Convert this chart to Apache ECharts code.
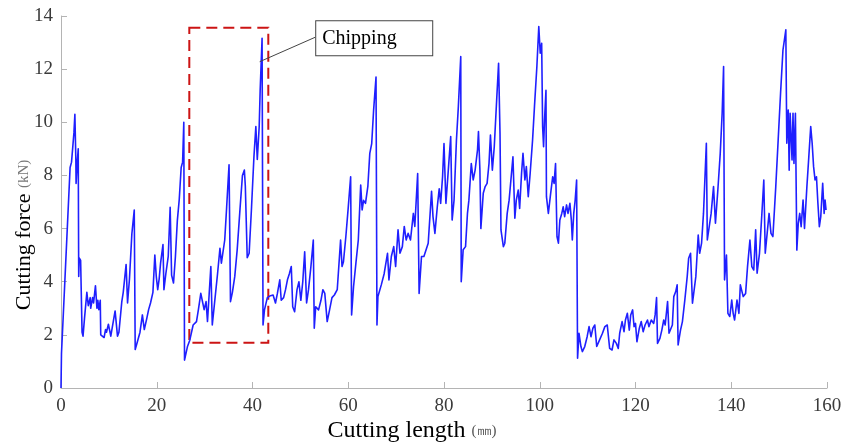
<!DOCTYPE html>
<html>
<head>
<meta charset="utf-8">
<script src="https://cdn.jsdelivr.net/npm/echarts@6/dist/echarts.min.js"></script>
<style>
  html, body { margin: 0; padding: 0; background: #fff; }
  #chart { width: 845px; height: 446px; }
</style>
</head>
<body>
<div id="chart"></div>
<script>
// Cutting length (mm) at each sample
const lengthMm = [
  0, 0.1, 0.8, 1.9, 2.2, 2.7, 2.9, 3.1, 3.15, 3.4, 3.6, 3.7, 3.8, 4.1, 4.4, 4.6, 4.9, 5.4, 5.7, 6.1,
  6.2, 6.6, 6.8, 7.2, 7.5, 7.7, 7.9, 8.2, 8.3, 8.6, 9.0, 9.3, 9.5, 9.9, 10.4, 10.7, 11.3, 11.8, 12.1, 12.7,
  13.0, 13.6, 13.9, 14.3, 14.8, 15.3, 15.5, 15.9, 16.5, 17.0, 17.4, 17.9, 18.3, 18.7, 19.2, 19.6, 19.9, 20.2, 20.5, 20.8,
  21.3, 21.5, 21.9, 22.4, 22.8, 23.1, 23.5, 23.9, 24.3, 24.7, 25.1, 25.4, 25.5, 25.65,
  25.8, 26.4, 26.9, 27.6, 28.3, 28.7, 29.2, 29.6, 29.9, 30.3, 30.6, 31.3, 31.6, 32.1, 32.7, 33.2, 33.5, 33.8, 34.2, 34.6,
  35.1, 35.4, 35.8, 36.3, 36.8, 37.4, 37.9, 38.3, 38.5, 38.9, 39.3, 39.8, 40.3, 40.7, 41.0, 41.4, 41.6, 42.0, 42.2, 42.5,
  43.1, 43.6, 44.3, 44.8, 45.2, 45.7, 46.0, 46.5, 46.9, 47.3, 47.7, 48.1, 48.4, 48.8, 49.3, 49.7, 50.1, 50.5, 50.9, 51.3,
  51.7, 52.2, 52.7, 52.9, 53.2, 53.8, 54.3, 54.7, 55.1, 55.6, 56.1, 56.6, 57.1, 57.7, 58.4, 58.7, 59.0, 59.5, 60.0, 60.5,
  60.7, 61.1, 61.6, 62.1, 62.6, 62.9, 63.2, 63.6, 64.1, 64.5, 64.9, 65.3, 65.8, 66.0, 66.2, 66.9, 67.5, 68.2, 68.5, 69.0,
  69.5, 69.9, 70.4, 70.8, 71.3, 71.7, 72.1, 72.5, 73.0, 73.6, 73.9, 74.5, 74.8,
  75.3, 75.8, 76.2, 76.7, 77.4, 77.7, 78.1, 78.6, 79.0, 79.3, 79.7, 80.0, 80.4, 80.9, 81.4, 81.7, 82.1, 82.6, 83.0, 83.5,
  83.6, 84.0, 84.5, 84.9, 85.2, 85.7, 86.1, 86.5, 87.0, 87.2, 87.5, 87.7, 88.2, 88.6, 89.0, 89.4, 89.7, 90.1, 90.5, 91.0,
  91.4, 91.7, 91.9, 92.4, 92.7, 93.2, 93.6, 94.1, 94.4, 94.8, 95.1, 95.5, 95.8, 96.2, 96.5, 96.9, 97.2, 97.6, 98.0, 98.5,
  98.9, 99.4, 99.8, 100.1, 100.4, 100.6, 100.8, 101.0, 101.3, 101.4, 101.8, 102.2, 102.7, 103.0, 103.3, 103.6, 103.9, 104.2, 104.6, 104.9,
  105.2, 105.6, 105.9, 106.3, 106.6, 106.8, 107.1, 107.4, 107.7,
  107.9, 108.2, 108.6, 108.9, 109.4, 109.9, 110.3, 110.7, 111.1, 111.5, 111.9, 112.5, 113.1, 113.6, 114.1, 114.6, 115.1, 115.5, 116.0, 116.4,
  116.7, 117.2, 117.6, 117.9, 118.3, 118.7, 119.0, 119.4, 119.7, 120.0, 120.3, 120.8, 121.2, 121.6, 122.0, 122.5, 122.8, 123.3, 123.8, 124.1,
  124.4, 124.6, 125.1, 125.5, 125.9, 126.2, 126.7, 127.0, 127.4, 127.7, 128.0, 128.4, 128.7, 128.9, 129.4, 129.8, 130.3, 130.8, 131.1, 131.5,
  131.9, 132.2, 132.6, 133.1, 133.4, 133.8, 134.2, 134.8, 135.0, 135.3, 135.8, 136.3, 136.7, 137.2, 137.7, 138.1, 138.4, 138.6, 139.0, 139.3,
  139.7, 140.1, 140.4, 140.7, 141.2, 141.6, 141.9, 142.5, 143.0, 143.4, 143.9, 144.3, 144.7, 145.1, 145.4, 145.9, 146.4, 146.8, 147.1, 147.5,
  147.9, 148.3, 148.7, 149.3, 149.8, 150.3, 150.8, 151.4, 151.6, 151.9, 152.1, 152.3, 152.7, 152.9, 153.1, 153.4, 153.7, 154.0, 154.3, 154.6,
  155.0, 155.3, 155.8, 156.2, 156.6, 156.9, 157.2, 157.5, 157.8, 158.1, 158.4, 158.7, 159.1, 159.4, 159.6, 159.8
];

// Cutting force (kN) at each sample
const forceKn = [
  0, 1.3, 4.0, 8.3, 8.5, 9.6, 10.3, 8.6, 7.7, 8.5, 9.0, 4.2, 4.9, 4.8, 2.1, 1.95, 2.6, 3.6, 3.1, 3.4,
  3.0, 3.4, 3.2, 3.85, 3.0, 3.3, 2.95, 3.3, 2.0, 1.95, 1.9, 2.2, 2.1, 2.4, 1.95, 1.9, 2.9, 1.95, 2.1, 3.25,
  3.6, 4.65, 3.2, 4.1, 5.8, 6.7, 1.45, 1.7, 2.1, 2.75, 2.2, 2.6, 2.95, 3.2, 3.6, 5.0, 4.2, 3.7, 4.1, 4.7,
  5.4, 3.7, 4.3, 4.95, 6.8, 4.25, 3.95, 4.95, 6.3, 7.1, 8.3, 8.5, 9.1, 10.0,
  1.05, 1.55, 1.8, 2.37, 2.5, 2.95, 3.56, 3.5, 2.95, 3.25, 2.5, 4.57, 2.37, 3.25, 4.3, 5.26, 4.7, 4.75, 5.57, 6.8,
  8.4, 3.25, 3.6, 4.2, 5.2, 6.76, 8.0, 8.2, 7.6, 4.9, 5.07, 6.8, 8.7, 9.84, 8.6, 9.84, 11.2, 13.16, 2.37, 2.94,
  3.4, 3.46, 3.5, 3.2, 3.56, 4.07, 3.3, 3.4, 3.7, 4.07, 4.3, 4.57, 3.06, 2.87, 3.7, 4.0, 3.3, 4.0, 5.13, 3.2,
  3.7, 4.57, 5.57, 2.25, 3.06, 2.94, 3.3, 3.7, 3.56, 2.5, 2.94, 3.4, 3.5, 3.7, 5.57, 4.57, 4.75, 5.7, 6.8, 7.95,
  2.75, 3.8, 4.7, 5.57, 7.64, 6.7, 7.06, 6.95, 7.6, 8.83, 9.2, 10.46, 11.7, 2.37, 3.44, 3.88, 4.3, 5.07, 4.07, 4.95,
  5.32, 4.57, 5.95, 5.07, 5.32, 6.08, 5.57, 5.82, 5.57, 6.57, 6.08, 8.07, 3.56,
  4.95, 4.95, 4.88, 5.45, 7.4, 6.45, 5.82, 6.82, 7.5, 6.95, 7.95, 9.2, 6.95, 8.2, 9.46, 6.32, 7.07, 9.33, 10.6, 12.47,
  4.0, 5.2, 5.32, 6.57, 7.07, 8.45, 7.83, 8.2, 8.96, 9.65, 8.2, 6.0, 7.33, 7.58, 7.7, 8.45, 9.52, 8.2, 9.08, 10.84,
  12.22, 9.58, 5.95, 5.32, 5.45, 6.57, 7.07, 8.08, 8.7, 6.39, 7.07, 7.45, 6.76, 8.08, 8.83, 7.83, 8.33, 7.2, 8.08, 9.33,
  10.6, 12.1, 13.6, 12.6, 12.97, 9.84, 9.08, 10.09, 11.2, 7.2, 6.57, 7.2, 7.95, 7.7, 8.45, 5.7, 5.45, 6.32, 6.57, 6.82,
  6.45, 6.89, 6.57, 6.95, 6.32, 5.57, 6.57, 7.07, 7.83,
  1.12, 2.06, 1.56, 1.37, 1.56, 1.93, 2.31, 1.93, 2.25, 2.37, 1.56, 1.81, 2.06, 2.31, 2.37, 1.49, 1.43, 1.81, 1.68, 1.49,
  2.06, 2.5, 2.12, 2.56, 2.81, 2.18, 2.75, 2.94, 2.31, 2.43, 1.74, 2.25, 2.5, 2.12, 2.37, 2.56, 2.31, 2.56, 2.43, 2.75,
  3.4, 1.68, 1.87, 2.18, 2.56, 2.37, 3.25, 2.06, 2.0, 2.37, 3.44, 3.63, 3.88, 1.62, 2.18, 2.5, 3.31, 4.19, 4.88, 5.07,
  3.19, 3.25, 4.19, 5.76, 5.07, 5.45, 6.57, 9.21, 5.57, 5.57, 6.57, 7.58, 6.2, 7.45, 8.83, 10.34, 12.1, 4.07, 5.0, 2.81,
  2.69, 3.31, 2.81, 2.56, 3.31, 2.81, 3.88, 3.44, 3.56, 4.57, 5.57, 4.57, 4.44, 5.95, 4.32, 5.07, 6.57, 7.83, 5.07, 5.82,
  6.57, 5.82, 5.7, 7.58, 9.33, 11.09, 12.72, 13.48, 9.21, 10.46, 8.2, 10.34, 8.58, 10.34, 8.45, 10.34, 5.19, 6.2, 6.57, 6.07,
  7.07, 6.0, 7.58, 8.7, 9.84, 9.21, 8.33, 7.83, 7.95, 6.95, 6.07, 6.45, 7.7, 6.57, 7.07, 6.7
];

// Highlighted chipping region and its callout
const chipRangeX = [26.8, 43.3];
const chipRangeY = [1.7, 13.56];
const chipPoint = [41.5, 12.28];
const calloutAnchor = [53.1, 13.2];
const calloutText = 'Chipping';

const seriesData = lengthMm.map((x, i) => [x, forceKn[i]]);

const chart = echarts.init(document.getElementById('chart'), null, { renderer: 'canvas' });

const serif = '"Liberation Serif", "Times New Roman", serif';
const axisGray = '#b4b4b4';
const labelColor = '#3a3a3a';

chart.setOption({
  animation: false,
  backgroundColor: '#ffffff',
  grid: { left: 61, right: 18, top: 16, bottom: 58 },
  xAxis: {
    type: 'value',
    min: 0, max: 160, interval: 20,
    axisLine: { show: true, lineStyle: { color: axisGray, width: 1 } },
    axisTick: { show: true, inside: true, length: 6, lineStyle: { color: axisGray } },
    axisLabel: { color: labelColor, fontFamily: serif, fontSize: 19, margin: 9 },
    splitLine: { show: false }
  },
  yAxis: {
    type: 'value',
    min: 0, max: 14, interval: 2,
    axisLine: { show: true, lineStyle: { color: axisGray, width: 1 } },
    axisTick: { show: true, inside: true, length: 6, lineStyle: { color: axisGray } },
    axisLabel: { color: labelColor, fontFamily: serif, fontSize: 19, margin: 8 },
    splitLine: { show: false }
  },
  series: [{
    type: 'line',
    data: seriesData,
    showSymbol: false,
    symbol: 'none',
    lineStyle: { color: '#1f1fff', width: 1.6, join: 'round' },
    markArea: {
      silent: true,
      itemStyle: {
        color: 'rgba(0,0,0,0)',
        borderColor: '#cc1414',
        borderWidth: 2,
        borderType: [11, 6]
      },
      data: [[
        { coord: [chipRangeX[0], chipRangeY[1]] },
        { coord: [chipRangeX[1], chipRangeY[0]] }
      ]]
    },
    markLine: {
      silent: true,
      symbol: ['none', 'none'],
      label: { show: false },
      lineStyle: { color: '#444', width: 1, type: 'solid' },
      data: [[
        { coord: chipPoint },
        { coord: calloutAnchor }
      ]]
    }
  }]
});

// Callout box and axis titles, placed from data coordinates
const anchorPx = chart.convertToPixel({ seriesIndex: 0 }, calloutAnchor);
chart.setOption({
  graphic: [
    {
      type: 'text',
      left: anchorPx[0],
      top: anchorPx[1] - 17,
      style: {
        text: calloutText,
        font: '20px ' + serif,
        fill: '#000',
        backgroundColor: '#fff',
        borderColor: '#444',
        borderWidth: 1,
        padding: [7, 10, 7, 6],
        width: 100
      }
    },
    {
      type: 'text',
      x: 24, y: 235,
      rotation: Math.PI / 2,
      style: {
        text: '{a|Cutting force }{b|(kN)}',
        rich: {
          a: { font: '22px ' + serif, fill: '#000' },
          b: { font: '15px ' + serif, fill: '#777' }
        },
        align: 'center',
        verticalAlign: 'middle'
      }
    },
    {
      type: 'text',
      x: 412, y: 431,
      style: {
        text: '{a|Cutting length }{b|(㎜)}',
        rich: {
          a: { font: '24px ' + serif, fill: '#000' },
          b: { font: '15px ' + serif, fill: '#555' }
        },
        align: 'center',
        verticalAlign: 'middle'
      }
    }
  ]
});
</script>
</body>
</html>
